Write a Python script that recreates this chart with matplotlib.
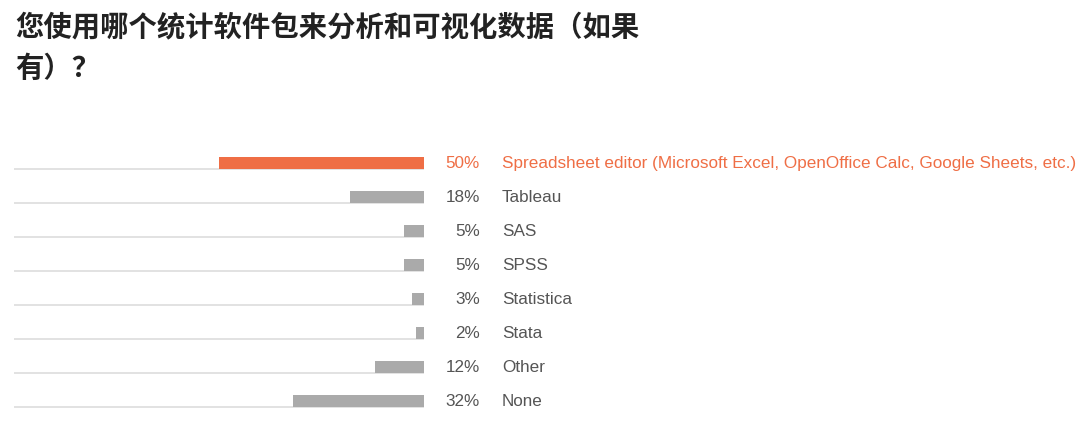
import matplotlib
matplotlib.use("Agg")
import matplotlib.pyplot as plt
import numpy as np

# survey answers, top to bottom
tools = ["Spreadsheet editor (Microsoft Excel, OpenOffice Calc, Google Sheets, etc.)",
         "Tableau", "SAS", "SPSS", "Statistica", "Stata", "Other", "None"]
shares = [50, 18, 5, 5, 3, 2, 12, 32]
title = "您使用哪个统计软件包来分析和可视化数据（如果\n有）？"

orange = "#EF6E45"
grey_bar = "#AAAAAA"
grey_txt = "#555555"
line_col = "#DDDDDD"

W, H = 1080, 429
fig = plt.figure(figsize=(W / 100, H / 100), dpi=100)
fig.patch.set_facecolor("white")

# axes spans the track area (x 14..424 px, rows 145..418 px)
ax = fig.add_axes([14 / W, (H - 418) / H, 410 / W, 272.5 / H])
ax.set_xlim(100, 0)
ax.set_ylim(len(tools) - 0.5, -0.5)
ax.axis("off")

y = np.arange(len(tools))
bh = 12 / 34
colors = [orange] + [grey_bar] * (len(tools) - 1)

ax.hlines(y + bh / 2, 0, 100, color=line_col, lw=1.2, zorder=1)
ax.barh(y, shares, height=bh, color=colors, zorder=2)

for i, (name, v) in enumerate(zip(tools, shares)):
    c = orange if i == 0 else grey_txt
    ax.annotate(f"{v}%", xy=(0, i), xytext=(40.3, -0.5), textcoords="offset points",
                ha="right", va="center", fontsize=12.3, color=c,
                family=["Liberation Sans", "DejaVu Sans"])
    ax.annotate(name, xy=(0, i), xytext=(56.2, -0.5), textcoords="offset points",
                ha="left", va="center", fontsize=12.3, color=c,
                family=["Liberation Sans", "DejaVu Sans"])

fig.text(15 / W, 1 - 13.5 / H, title, ha="left", va="top", fontsize=20.4,
         fontweight="bold", color="#222222", linespacing=1.62,
         family=["Noto Sans CJK SC", "DejaVu Sans"])

fig.savefig("out.png", dpi=100)
